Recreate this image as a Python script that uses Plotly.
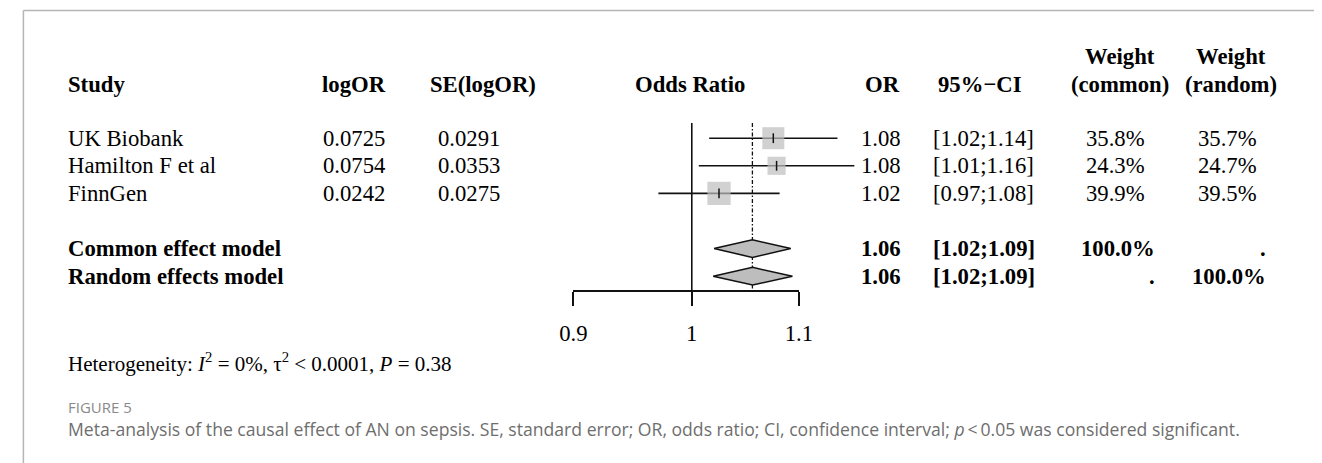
import math
import plotly.graph_objects as go

# ---------------- data ----------------
studies = ["UK Biobank", "Hamilton F et al", "FinnGen"]
log_or = [0.0725, 0.0754, 0.0242]
se_log_or = [0.0291, 0.0353, 0.0275]
or_text = ["1.08", "1.08", "1.02"]
ci_text = ["[1.02;1.14]", "[1.01;1.16]", "[0.97;1.08]"]
w_common = [35.8, 24.3, 39.9]
w_random = [35.7, 24.7, 39.5]

models = ["Common effect model", "Random effects model"]
model_log_or = [0.0539, 0.0541]
model_log_lo = [0.0198, 0.0190]
model_log_hi = [0.0880, 0.0895]
model_or_text = ["1.06", "1.06"]
model_ci_text = ["[1.02;1.09]", "[1.02;1.09]"]
model_w_common = ["100.0%", "."]
model_w_random = [".", "100.0%"]

tick_vals = [0.9, 1, 1.1]
tick_text = ["0.9", "1", "1.1"]

headers = ["Study", "logOR", "SE(logOR)", "Odds Ratio", "OR", "95%\u2212CI"]
weight_headers = [("Weight", "(common)"), ("Weight", "(random)")]
heterogeneity = ("Heterogeneity: <i>I</i><sup>2</sup> = 0%, \u03c4<sup>2</sup> &lt; 0.0001, "
                 "<i>P</i> = 0.38")
fig_label = "FIGURE 5"
caption = ("Meta-analysis of the causal effect of AN on sepsis. SE, standard error; OR, odds ratio; "
           "CI, confidence interval; <i>p</i>\u2009&lt;\u20090.05 was considered significant.")

# ---------------- layout constants ----------------
W, H = 1322, 463
PAPER_LEFT = 21.6        # where the paper's left edge lands on screen
PAPER_W = 1294.4         # on-screen paper width
OY = 8                   # page body margin compensation (vertical)
FS = 22.7
SERIF = "Liberation Serif, Times New Roman, serif"
SANS = "Open Sans, sans-serif"
PX_PER_LOG10 = 2589.7
X_ONE = 691.6            # screen pixel of OR = 1
Y_AXIS_PX = 290.0
ROW_H = 27.6

study_rows = [0, 1, 2]
model_rows = [4, 5]
top_row = -0.55
axis_row = 5.5
y_top = axis_row - (Y_AXIS_PX - OY) / ROW_H


def px(x):
    return (x - PAPER_LEFT) / PAPER_W


def py(y):
    return 1 - (y - OY) / H


fig = go.Figure()
ink = "#111111"

# CI lines
for r, lo_, se in zip(study_rows, log_or, se_log_or):
    lo = math.exp(lo_ - 1.96 * se)
    hi = math.exp(lo_ + 1.96 * se)
    fig.add_trace(go.Scatter(x=[lo, hi], y=[r, r], mode="lines",
                             line=dict(color=ink, width=1.6),
                             xaxis="x2", yaxis="y", hoverinfo="skip", showlegend=False))

# reference line at 1 and pooled effect line
fig.add_trace(go.Scatter(x=[1, 1], y=[top_row, axis_row], mode="lines",
                         line=dict(color=ink, width=1.6),
                         xaxis="x2", yaxis="y", hoverinfo="skip", showlegend=False))
fig.add_trace(go.Scatter(x=[math.exp(model_log_or[0])] * 2, y=[top_row, axis_row], mode="lines",
                         line=dict(color=ink, width=1.3, dash="4px,2px,1.5px,2px"),
                         xaxis="x2", yaxis="y", hoverinfo="skip", showlegend=False))

# squares sized by weight
fig.add_trace(go.Scatter(x=[math.exp(v) for v in log_or], y=study_rows, mode="markers",
                         marker=dict(symbol="square", color="#bdbdbd",
                                     size=[3.68 * math.sqrt(w) for w in w_common],
                                     line=dict(width=0)),
                         xaxis="x2", yaxis="y", hoverinfo="skip", showlegend=False))
fig.add_trace(go.Scatter(x=[math.exp(v) for v in log_or], y=study_rows, mode="markers",
                         marker=dict(symbol="line-ns-open", size=7, color=ink,
                                     line=dict(width=1.5, color=ink)),
                         xaxis="x2", yaxis="y", hoverinfo="skip", showlegend=False))

# diamonds
dh = 0.32
for r, est, lo, hi in zip(model_rows, model_log_or, model_log_lo, model_log_hi):
    xs = [math.exp(lo), math.exp(est), math.exp(hi), math.exp(est), math.exp(lo)]
    ys = [r, r - dh, r, r + dh, r]
    fig.add_trace(go.Scatter(x=xs, y=ys, mode="lines", fill="toself", fillcolor="#bdbdbd",
                             line=dict(color=ink, width=1.5),
                             xaxis="x2", yaxis="y", hoverinfo="skip", showlegend=False))

# invisible trace on the visible axis
fig.add_trace(go.Scatter(x=[1], y=[axis_row], mode="markers", marker=dict(opacity=0),
                         xaxis="x", yaxis="y", hoverinfo="skip", showlegend=False))

ann = []


def add(text, xpx, y, anchor="left", bold=False, size=FS, yref="y", color="black", family=SERIF):
    t = f"<b>{text}</b>" if bold else text
    ann.append(dict(text=t, x=px(xpx), xref="paper", y=y, yref=yref,
                    xanchor=anchor, yanchor="middle", showarrow=False,
                    font=dict(family=family, size=size, color=color)))


hdr_row = -1.93
hdr_row2 = -2.95
add(headers[0], 66, hdr_row, "left", True)
add(headers[1], 387.5, hdr_row, "right", True)
add(headers[2], 482.5, hdr_row, "center", True)
add(headers[3], 690.3, hdr_row, "center", True)
add(headers[4], 902, hdr_row, "right", True)
add(headers[5], 980, hdr_row, "center", True)
add(weight_headers[0][0], 1119.5, hdr_row2, "center", True)
add(weight_headers[0][1], 1119.5, hdr_row, "center", True)
add(weight_headers[1][0], 1231, hdr_row2, "center", True)
add(weight_headers[1][1], 1231, hdr_row, "center", True)

for i, r in enumerate(study_rows):
    add(studies[i], 66, r, "left")
    add(f"{log_or[i]:.4f}", 387, r, "right")
    add(f"{se_log_or[i]:.4f}", 502, r, "right")
    add(or_text[i], 903, r, "right")
    add(ci_text[i], 931, r, "left")
    add(f"{w_common[i]:.1f}%", 1147, r, "right")
    add(f"{w_random[i]:.1f}%", 1259, r, "right")

for i, r in enumerate(model_rows):
    add(models[i], 66, r, "left", True)
    add(model_or_text[i], 903, r, "right", True)
    add(model_ci_text[i], 931, r, "left", True)
    add(model_w_common[i], 1157, r, "right", True)
    add(model_w_random[i], 1267.5, r, "right", True)

add(heterogeneity, 66, py(362), "left", size=21, yref="paper")
add(fig_label, 66, py(407), "left", size=15, yref="paper", color="#8a8a8a", family=SANS)
add(caption, 66, py(429), "left", size=17.6, yref="paper", color="#6e6e6e", family=SANS)

# frame (left edge kept just inside the drawable area)
frame_col = "#b5b5b5"
FRAME_X = 23.0
shapes = [
    dict(type="line", xref="paper", yref="paper", x0=px(FRAME_X), x1=px(1330), y0=py(10.5), y1=py(10.5),
         line=dict(color=frame_col, width=1.5)),
    dict(type="line", xref="paper", yref="paper", x0=px(FRAME_X), x1=px(FRAME_X), y0=py(475), y1=py(10.5),
         line=dict(color=frame_col, width=1.5)),
]

x_lo_px = X_ONE + math.log10(0.9) * PX_PER_LOG10
x_hi_px = X_ONE + math.log10(1.1) * PX_PER_LOG10

fig.update_layout(
    width=W, height=H, autosize=False, margin=dict(l=0, r=0, t=0, b=0, pad=0),
    paper_bgcolor="white", plot_bgcolor="rgba(0,0,0,0)",
    showlegend=False, annotations=ann, shapes=shapes,
    xaxis=dict(type="log", domain=[px(x_lo_px), px(x_hi_px)],
               range=[math.log10(0.9), math.log10(1.1)], anchor="y",
               showline=True, linecolor=ink, linewidth=1.6,
               ticks="outside", ticklen=14, tickwidth=1.6, tickcolor=ink,
               tickvals=tick_vals, ticktext=tick_text, showgrid=False, zeroline=False,
               tickfont=dict(family=SERIF, size=FS, color="black"), ticklabelstandoff=8,
               fixedrange=True),
    xaxis2=dict(type="log", domain=[0, 1],
                range=[(PAPER_LEFT - X_ONE) / PX_PER_LOG10,
                       (PAPER_LEFT + PAPER_W - X_ONE) / PX_PER_LOG10], anchor="y",
                visible=False, showgrid=False, zeroline=False, fixedrange=True),
    yaxis=dict(domain=[py(Y_AXIS_PX), 1], range=[axis_row, y_top], anchor="x",
               visible=False, showgrid=False, zeroline=False, fixedrange=True),
)

fig.write_html("out.html")
